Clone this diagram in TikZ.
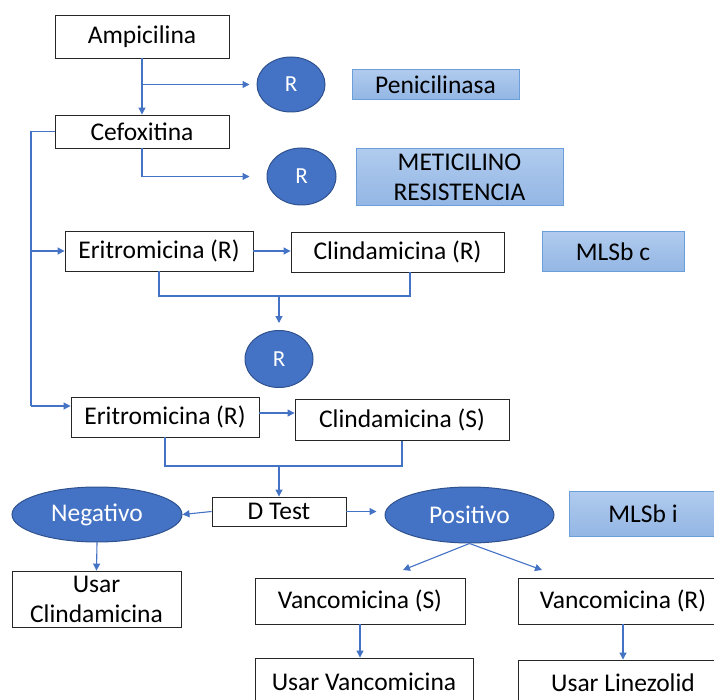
\documentclass[tikz,border=0pt]{standalone}
\usepackage{fontspec}
\setmainfont{Carlito}
\usetikzlibrary{arrows.meta,shapes.geometric}
\definecolor{ln}{HTML}{4472C4}
\definecolor{cf}{HTML}{4472C4}
\definecolor{cb}{HTML}{2F528F}
\definecolor{lbt}{HTML}{B0CBEE}
\definecolor{lbb}{HTML}{93B6E4}
\definecolor{lbd}{HTML}{6A9FDB}
\begin{document}
\begin{tikzpicture}[x=1pt,y=-1pt,
 font=\fontsize{25.5}{30}\selectfont,
 box/.style={draw=black!85,line width=0.9pt,fill=white,inner sep=0pt,align=center},
 tag/.style={draw=lbd,line width=1pt,top color=lbt,bottom color=lbb,inner sep=0pt,align=center},
 blob/.style={ellipse,draw=cb,line width=1pt,fill=cf,text=white,inner sep=0pt},
 con/.style={draw=ln,line width=1.1pt},
 arr/.style={con,-{Triangle[width=7pt,length=7pt]}}]
\path[use as bounding box] (0,0) rectangle (714,700);
% nodes
\node[box,minimum width=174pt,minimum height=43pt] (amp) at (142,36.5) {Ampicilina};
\node[box,minimum width=174pt,minimum height=33pt] (cef) at (142,131.5) {Cefoxitina};
\node[blob,minimum width=68pt,minimum height=55pt,font=\fontsize{23}{26}\selectfont] (r1) at (291,84.5) {R};
\node[tag,minimum width=167pt,minimum height=30pt] (pen) at (435.5,84.5) {Penicilinasa};
\node[blob,minimum width=69pt,minimum height=57pt,font=\fontsize{23}{26}\selectfont] (r2) at (301.5,176.5) {R};
\node[tag,minimum width=207pt,minimum height=57pt] (met) at (459.5,177.5) {METICILINO\\RESISTENCIA};
\node[box,minimum width=188pt,minimum height=40pt] (eri1) at (159,251) {Eritromicina (R)};
\node[box,minimum width=213pt,minimum height=40pt] (cli1) at (397.5,252) {Clindamicina (R)};
\node[tag,minimum width=142pt,minimum height=40pt] (mlsc) at (613,252) {MLSb c};
\node[blob,minimum width=68pt,minimum height=57pt,font=\fontsize{23}{26}\selectfont] (r3) at (279,359) {R};
\node[box,minimum width=188pt,minimum height=40pt] (eri2) at (165,417) {Eritromicina (R)};
\node[box,minimum width=214pt,minimum height=41pt] (cli2) at (402,420) {Clindamicina (S)};
\node[box,minimum width=134pt,minimum height=29pt] (dt) at (279,511.5) {D Test};
\node[blob,minimum width=169pt,minimum height=56pt] (pos) at (469.5,515) {Positivo};
\node[tag,minimum width=148pt,minimum height=45pt] (mlsi) at (643,514) {MLSb i};
\node[blob,minimum width=170pt,minimum height=55pt] (neg) at (97,514.5) {Negativo};
\node[box,minimum width=169pt,minimum height=56pt] (uc) at (96.5,599) {Usar\\Clindamicina};
\node[box,minimum width=210pt,minimum height=46pt] (vs) at (360,601) {Vancomicina (S)};
\node[box,minimum width=210pt,minimum height=46pt] (vr) at (623,601) {Vancomicina (R)};
\node[box,minimum width=218pt,minimum height=48pt] (uv) at (364,682) {Usar Vancomicina};
\node[box,minimum width=210pt,minimum height=46pt] (ul) at (623,683) {Usar Linezolid};
% helper coordinates
\coordinate (spine) at (31,406);
\coordinate (b1) at (279,296);
\coordinate (b2) at (279,466);
\coordinate (pa) at (403,570);
\coordinate (pb) at (542,570);
% connectors
\draw[arr] (amp.south) -- (cef.north);
\draw[arr] (amp.south |- r1.west) -- ([xshift=-7pt]r1.west);
\draw[arr] (cef.south) |- ([xshift=-17pt]r2.west);
\draw[con] (cef.west) -| (spine);
\draw[arr] (spine |- eri1.west) -- (eri1.west);
\draw[arr] (spine) -- (spine -| eri2.west);
\draw[arr] (eri1.east) -- (cli1.west |- eri1.east);
\draw[con] (eri1.south) |- (b1) -| ([xshift=12.5pt]cli1.south);
\draw[arr,shorten >=7pt] (b1) -- (r3.north);
\draw[arr] ([yshift=4pt]eri2.east) -- ([yshift=4pt]eri2.east -| cli2.west);
\draw[con] (eri2.south) |- (b2) -| (cli2.south);
\draw[arr] (b2) -- (dt.north);
\draw[arr,shorten >=8pt] (dt.east) -- (pos.west |- dt.east);
\draw[arr] (dt.west) -- (neg.east);
\draw[arr] (neg.south) -- (uc.north);
\draw[arr] (pos.south) -- (pa);
\draw[arr] (pos.south) -- (pb);
\draw[arr] (vs.south) -- (uv.north -| vs.south);
\draw[arr] (vr.south) -- (ul.north);
\end{tikzpicture}
\end{document}
